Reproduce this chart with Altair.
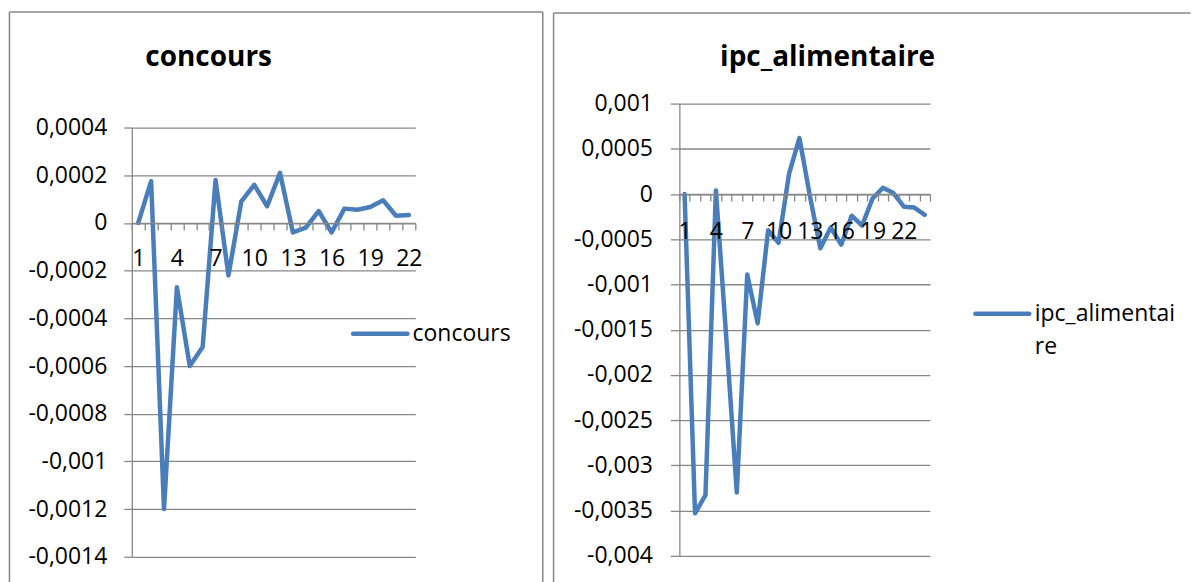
import altair as alt
import pandas as pd

# ---------------- data ----------------
concours_idx = list(range(1, 23))
concours_val = [0.0, 0.000175, -0.0012, -0.00027, -0.0006, -0.00052, 0.00018, -0.00022,
                0.00009, 0.00016, 0.00007, 0.00021, -0.00004, -0.00002, 0.00005, -0.00004,
                0.00006, 0.000055, 0.000067, 0.000095, 0.00003, 0.000033]
ipc_idx = list(range(1, 25))
ipc_val = [0.0, -0.00353, -0.00333, 0.00004, -0.0016, -0.0033, -0.00089, -0.00143,
           -0.0004, -0.00054, 0.00022, 0.00062, -0.00002, -0.0006, -0.00037, -0.00056,
           -0.00024, -0.00035, -0.00005, 0.00007, 0.00001, -0.00014, -0.00015, -0.00023]
concours_ticks = [0.0004, 0.0002, 0.0, -0.0002, -0.0004, -0.0006, -0.0008, -0.001, -0.0012, -0.0014]
ipc_ticks = [0.001, 0.0005, 0.0, -0.0005, -0.001, -0.0015, -0.002, -0.0025, -0.003, -0.0035, -0.004]
titles = ["concours", "ipc_alimentaire"]
legend_left = "concours"
legend_right = ["ipc_alimentai", "re"]

# ---------------- style ----------------
BLUE = "#4A7EBB"
GRAY = "#878787"
FONT = "Open Sans"
Y_LABEL = "replace(replace(format(datum.value, '.4~f'), '.', ','), '\u2212', '-')"
X_LABEL = "datum.value % 3 == 1 ? datum.label : ''"

ONE = alt.Data(values=[{}])


def rule(x, y, x2, y2, color=GRAY, width=1.5, cap="butt"):
    return alt.Chart(ONE).mark_rule(color=color, strokeWidth=width, strokeCap=cap).encode(
        x=alt.value(x), y=alt.value(y), x2=alt.value(x2), y2=alt.value(y2))


def text(x, y, txt, size, weight="normal", align="left", baseline="middle", line_height=None):
    kw = dict(font=FONT, fontSize=size, fontWeight=weight, align=align,
              baseline=baseline, color="black")
    if line_height is not None:
        kw["lineHeight"] = line_height
    return alt.Chart(ONE).mark_text(**kw).encode(
        x=alt.value(x), y=alt.value(y), text=alt.value(txt))


def panel(idx, vals, ticks, name, origin, size, top_pad, ytick, ypad, xpad,
          border, title_xy, legend_sw, legend_txt, legend_lines, legend_baseline):
    ox, oy = origin
    w, h = size
    hi, lo = ticks[0], ticks[-1]
    zero_px = top_pad + (h - top_pad) * hi / (hi - lo)
    df = pd.DataFrame({"t": idx, "v": vals, "s": [name] * len(idx)})

    line = alt.Chart(df).mark_line(color=BLUE, strokeWidth=4.5, strokeJoin="round",
                                   strokeCap="round").encode(
        x=alt.X("t:O", title=None,
                scale=alt.Scale(type="band", paddingInner=0, paddingOuter=0),
                axis=alt.Axis(orient="bottom", offset=-(h - zero_px), tickBand="extent",
                              tickSize=7, tickColor=GRAY, tickWidth=1.3,
                              domainColor=GRAY, domainWidth=1.3, grid=False, zindex=1,
                              labelExpr=X_LABEL, labelAngle=0, labelOverlap=False,
                              labelFont=FONT, labelFontSize=23, labelColor="black",
                              labelBaseline="middle", labelPadding=xpad)),
        y=alt.Y("v:Q", title=None,
                scale=alt.Scale(domain=[lo, hi], range=[h, top_pad], nice=False, zero=False),
                axis=alt.Axis(values=ticks, grid=True, gridColor=GRAY, gridWidth=1.3,
                              tickSize=ytick, tickColor=GRAY, tickWidth=1.3,
                              domainColor=GRAY, domainWidth=1.3,
                              labelExpr=Y_LABEL, labelOverlap=False,
                              labelFont=FONT, labelFontSize=23, labelColor="black",
                              labelPadding=ypad)),
    )

    bl, bt, br, bb = border
    decos = [rule(bl - ox, bt - oy, bl - ox, bb - oy),
             rule(bl - ox, bt - oy, br - ox, bt - oy)]
    if name == titles[0]:
        decos.append(rule(br - ox, bt - oy, br - ox, bb - oy))
    decos.append(text(title_xy[0] - ox, title_xy[1] - oy, name, 28, weight="bold", align="center"))
    sx1, sx2, sy = legend_sw
    decos.append(rule(sx1 - ox, sy - oy, sx2 - ox, sy - oy, color=BLUE, width=4.5, cap="round"))
    decos.append(text(legend_txt[0] - ox, legend_txt[1] - oy, legend_lines, 23,
                      baseline=legend_baseline, line_height=33.5))

    return alt.layer(*decos, line).properties(width=w, height=h)


# both panels share the same plot-origin row (y = 102.7 on the page)
left = panel(concours_idx, concours_val, concours_ticks, titles[0],
             origin=(131.3, 102.7), size=(284, 454), top_pad=24, ytick=8, ypad=17, xpad=29,
             border=(8.75, 11, 543, 582), title_xy=(208.3, 57.5),
             legend_sw=(353, 407.5, 333.3), legend_txt=(412.5, 333.5),
             legend_lines=legend_left, legend_baseline="middle")

right = panel(ipc_idx, ipc_val, ipc_ticks, titles[1],
              origin=(679, 102.7), size=(251, 453), top_pad=0, ytick=9, ypad=18, xpad=31,
              border=(553, 12, 1191, 582), title_xy=(827.5, 57.5),
              legend_sw=(975.5, 1029.5, 313.3), legend_txt=(1035, 302),
              legend_lines=legend_right, legend_baseline="top")

chart = alt.hconcat(left, right, spacing=8.5).properties(
    padding={"left": 0, "top": 2.25, "right": 0, "bottom": 0}
).configure_view(strokeWidth=0)

chart.save("out.html", embed_options={"renderer": "svg", "actions": False})
